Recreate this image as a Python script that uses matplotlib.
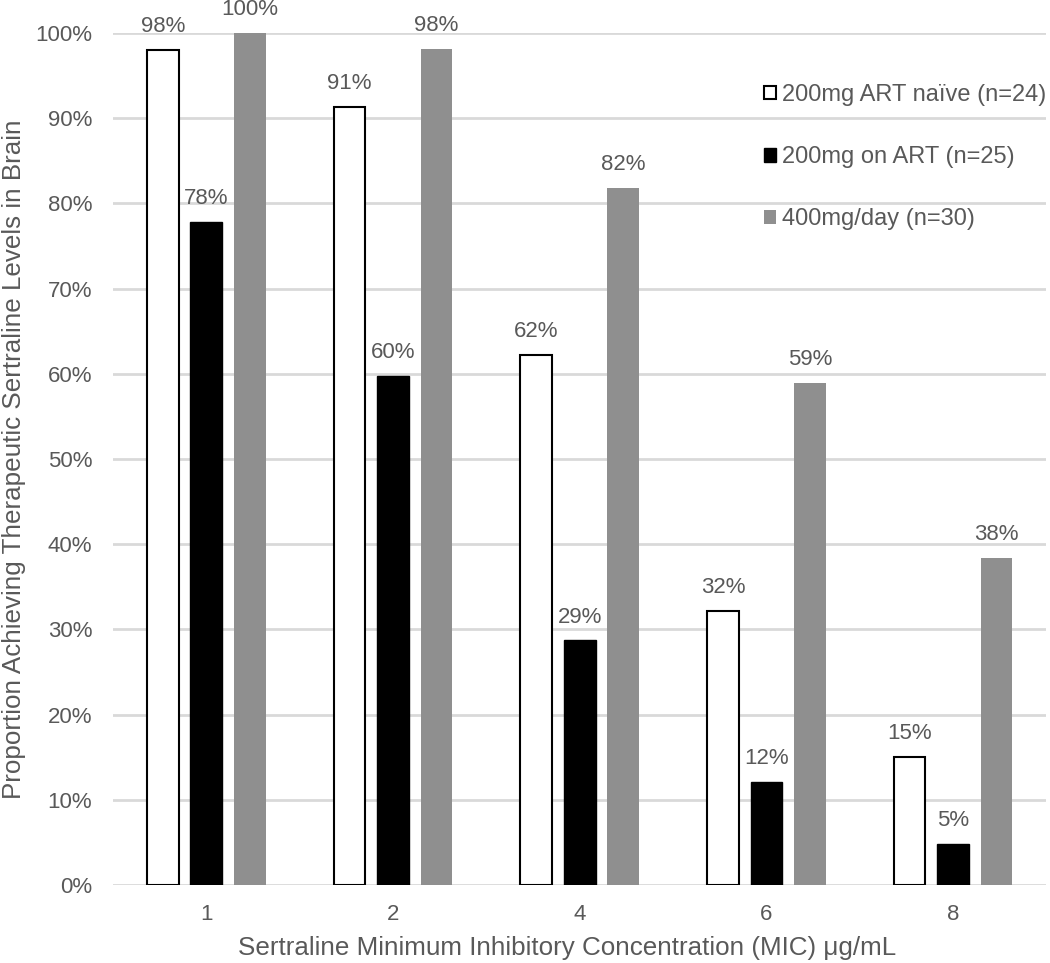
import matplotlib.pyplot as plt
import numpy as np

plt.rcParams['font.family'] = ['Liberation Sans', 'DejaVu Sans']

mic_labels = ['1', '2', '4', '6', '8']
series_names = ['200mg ART naïve (n=24)', '200mg on ART (n=25)', '400mg/day (n=30)']
art_naive = [98.0, 91.3, 62.2, 32.2, 15.0]
on_art = [77.8, 59.8, 28.7, 12.1, 4.8]
high_dose = [100.0, 98.1, 81.8, 58.9, 38.4]

text_col = '#595959'
grid_col = '#d9d9d9'

fig = plt.figure(figsize=(10.5, 9.63), dpi=100)
ax = fig.add_axes([0.1076, 0.081, 0.889, 0.8847])

x = np.arange(len(mic_labels))
width = 0.17
offset = 0.233

styles = [
    dict(facecolor='white', edgecolor='black', linewidth=1.5),
    dict(facecolor='black', edgecolor='black', linewidth=1.0),
    dict(facecolor='#8f8f8f', edgecolor='#8f8f8f', linewidth=0),
]

for i, (vals, name, st) in enumerate(zip([art_naive, on_art, high_dose], series_names, styles)):
    pos = x + (i - 1) * offset
    bars = ax.bar(pos, np.array(vals) / 100, width, label=name, zorder=3, **st)
    for b, v in zip(bars, vals):
        ax.text(b.get_x() + b.get_width() / 2, v / 100 + 0.015, f'{round(v)}%',
                ha='center', va='bottom', fontsize=16, color=text_col, zorder=4)

ax.set_xlim(-0.5, len(mic_labels) - 0.5)
ax.set_ylim(0, 1.0)
ax.set_yticks(np.arange(0, 1.01, 0.1))
ax.set_yticklabels([f'{int(t)}%' for t in np.arange(0, 101, 10)])
ax.set_xticks(x)
ax.set_xticklabels(mic_labels)
ax.tick_params(length=0, labelsize=16, colors=text_col)
ax.tick_params(axis='x', pad=14)
ax.tick_params(axis='y', pad=15)

ax.grid(axis='y', color=grid_col, linewidth=2, zorder=0)
ax.set_axisbelow(True)
for s in ax.spines.values():
    s.set_visible(False)

ax.set_ylabel('Proportion Achieving Therapeutic Sertraline Levels in Brain',
              fontsize=18.7, color=text_col, va='center')
ax.yaxis.set_label_coords(-0.106, 0.5)
ax.set_xlabel('Sertraline Minimum Inhibitory Concentration (MIC) μg/mL',
              fontsize=18.7, color=text_col, va='center')
ax.xaxis.set_label_coords(0.486, -0.074)

leg = ax.legend(loc='upper right', bbox_to_anchor=(1.0, 0.94), frameon=False,
                fontsize=17, handlelength=0.5, handleheight=0.5, handletextpad=0.25,
                labelspacing=1.7, borderaxespad=0, borderpad=0)
for t in leg.get_texts():
    t.set_color(text_col)

fig.savefig('out.png', dpi=100)
